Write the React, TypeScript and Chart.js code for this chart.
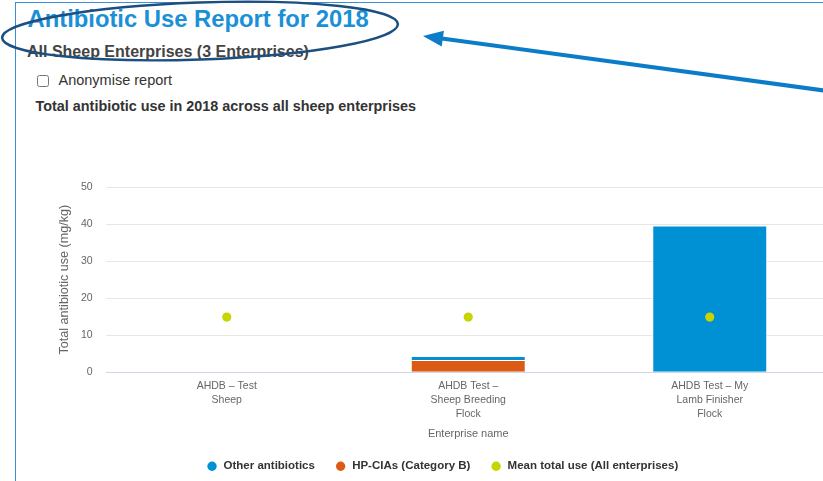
import React, { useEffect, useRef } from "react";
import { Chart, registerables } from "chart.js";

Chart.register(...registerables);

// ---- data ----
const categories: string[][] = [
  ["AHDB – Test", "Sheep"],
  ["AHDB Test –", "Sheep Breeding", "Flock"],
  ["AHDB Test – My", "Lamb Finisher", "Flock"],
];
const otherAntibiotics = [0, 1.1, 39.6];
const hpCias = [0, 3.3, 0];
const meanTotalUse = [14.9, 14.9, 14.9];
const yTickValues = [0, 10, 20, 30, 40, 50];
const seriesNames = ["Other antibiotics", "HP-CIAs (Category B)", "Mean total use (All enterprises)"];
const seriesColors = ["#0090d4", "#dd5a14", "#c8d400"];
const xAxisTitle = "Enterprise name";
const yAxisTitle = "Total antibiotic use (mg/kg)";

const FONT = '"Liberation Sans", Arial, sans-serif';

function ChartCanvas() {
  const ref = useRef<HTMLCanvasElement | null>(null);
  useEffect(() => {
    if (!ref.current) return;
    Chart.defaults.font.family = FONT;
    // dataset index: 0 = HP-CIAs (bottom of stack), 1 = Other, 2 = Mean
    const legendOrder = [1, 0, 2];
    const chart = new Chart(ref.current, {
      type: "bar",
      data: {
        labels: categories,
        datasets: [
          {
            type: "bar",
            label: seriesNames[1],
            data: hpCias,
            backgroundColor: seriesColors[1],
            borderColor: "#ffffff",
            borderWidth: 1,
            stack: "use",
            barPercentage: 0.476,
            categoryPercentage: 1,
            order: 1,
          },
          {
            type: "bar",
            label: seriesNames[0],
            data: otherAntibiotics,
            backgroundColor: seriesColors[0],
            borderColor: "#ffffff",
            borderWidth: 1,
            stack: "use",
            barPercentage: 0.476,
            categoryPercentage: 1,
            order: 1,
          },
          {
            type: "line",
            label: seriesNames[2],
            data: meanTotalUse,
            showLine: false,
            pointRadius: 4.6,
            pointBorderWidth: 0,
            pointBackgroundColor: seriesColors[2],
            backgroundColor: seriesColors[2],
            borderColor: seriesColors[2],
            stack: "mean",
            order: 0,
          } as any,
        ],
      },
      options: {
        animation: false,
        responsive: false,
        devicePixelRatio: 1,
        layout: { padding: { top: 67, left: 36, right: 37.5, bottom: 0 } },
        plugins: {
          tooltip: { enabled: false },
          legend: {
            position: "bottom",
            labels: {
              usePointStyle: true,
              pointStyle: "circle",
              boxWidth: 12,
              boxHeight: 6.6,
              padding: 20,
              color: "#333333",
              font: { family: FONT, size: 11.5, weight: "bold" },
              generateLabels: (c: any) => {
                const items = (Chart.defaults.plugins.legend.labels as any).generateLabels(c);
                return items.map((it: any) => ({
                  ...it,
                  lineWidth: 0,
                  strokeStyle: it.fillStyle,
                  pointStyle: "circle",
                }));
              },
              sort: (a: any, b: any) =>
                legendOrder.indexOf(a.datasetIndex) - legendOrder.indexOf(b.datasetIndex),
            },
          },
        },
        scales: {
          x: {
            stacked: true,
            grid: { display: false, drawTicks: false, tickLength: 0 },
            border: { color: "#ccd6eb", width: 1 },
            ticks: {
              color: "#666666",
              font: { family: FONT, size: 10.5, lineHeight: 1.29 },
              padding: 7.5,
              maxRotation: 0,
              autoSkip: false,
            },
            title: {
              display: true,
              text: xAxisTitle,
              color: "#666666",
              font: { family: FONT, size: 11, lineHeight: 1.2 },
              padding: { top: 0, bottom: 0.3 },
            },
            afterFit: (s: any) => {
              s.height = 68.25;
            },
          },
          y: {
            stacked: true,
            min: 0,
            max: 50,
            afterBuildTicks: (s: any) => {
              s.ticks = yTickValues.map((v) => ({ value: v }));
            },
            grid: {
              color: (ctx: any) => (ctx.tick && ctx.tick.value === 0 ? "#ccd6eb" : "#e6e6e6"),
              drawTicks: false,
            },
            border: { display: false },
            ticks: {
              color: "#666666",
              font: { family: FONT, size: 10.5 },
              padding: 13.3,
            },
            title: {
              display: true,
              text: yAxisTitle,
              color: "#666666",
              font: { family: FONT, size: 12.6, lineHeight: 1.2 },
              padding: { top: 3, bottom: 0 },
            },
            afterFit: (s: any) => {
              s.width = 52;
            },
          },
        },
      } as any,
    });
    return () => chart.destroy();
  }, []);
  return <canvas ref={ref} width={850} height={362} style={{ display: "block" }} />;
}

export default function App() {
  const text = (
    top: number,
    left: number,
    size: number,
    weight: string,
    color: string
  ): React.CSSProperties => ({
    position: "absolute",
    top,
    left,
    fontFamily: FONT,
    fontSize: size,
    lineHeight: `${size}px`,
    fontWeight: weight as any,
    color,
    whiteSpace: "nowrap",
    margin: 0,
  });
  return (
    <div
      style={{
        position: "fixed",
        left: 0,
        top: 0,
        width: 823,
        height: 481,
        overflow: "hidden",
        background: "#ffffff",
      }}
    >
      {/* page frame */}
      <div
        style={{
          position: "absolute",
          left: 15,
          top: 2,
          width: 900,
          height: 600,
          borderLeft: "1px solid #3b8fd9",
          borderTop: "1px solid #3b8fd9",
        }}
      />
      <div style={text(7.2, 27.5, 23.8, "bold", "#1a90d6")}>Antibiotic Use Report for 2018</div>
      <div style={text(43.5, 27, 16, "bold", "#444444")}>All Sheep Enterprises (3 Enterprises)</div>
      <input
        type="checkbox"
        style={{ position: "absolute", left: 36.5, top: 74.5, width: 12, height: 12, margin: 0 }}
      />
      <div style={text(72.7, 58.5, 14.5, "normal", "#333333")}>Anonymise report</div>
      <div style={text(98.8, 35.5, 14.4, "bold", "#333333")}>
        Total antibiotic use in 2018 across all sheep enterprises
      </div>
      <div style={{ position: "absolute", left: 18, top: 120, width: 850, height: 362 }}>
        <ChartCanvas />
      </div>
      {/* annotation overlay */}
      <svg
        width={823}
        height={481}
        style={{ position: "absolute", left: 0, top: 0, pointerEvents: "none" }}
      >
        <ellipse
          cx={200}
          cy={31}
          rx={198}
          ry={28.5}
          fill="none"
          stroke="#1c4e80"
          strokeWidth={2.5}
          transform="rotate(-2 200 31)"
        />
        <line x1={440} y1={38.3} x2={835} y2={92} stroke="#0c7cc9" strokeWidth={4} />
        <polygon points="423,35.9 441.7,46.5 443.9,30.7" fill="#0c7cc9" />
      </svg>
    </div>
  );
}
